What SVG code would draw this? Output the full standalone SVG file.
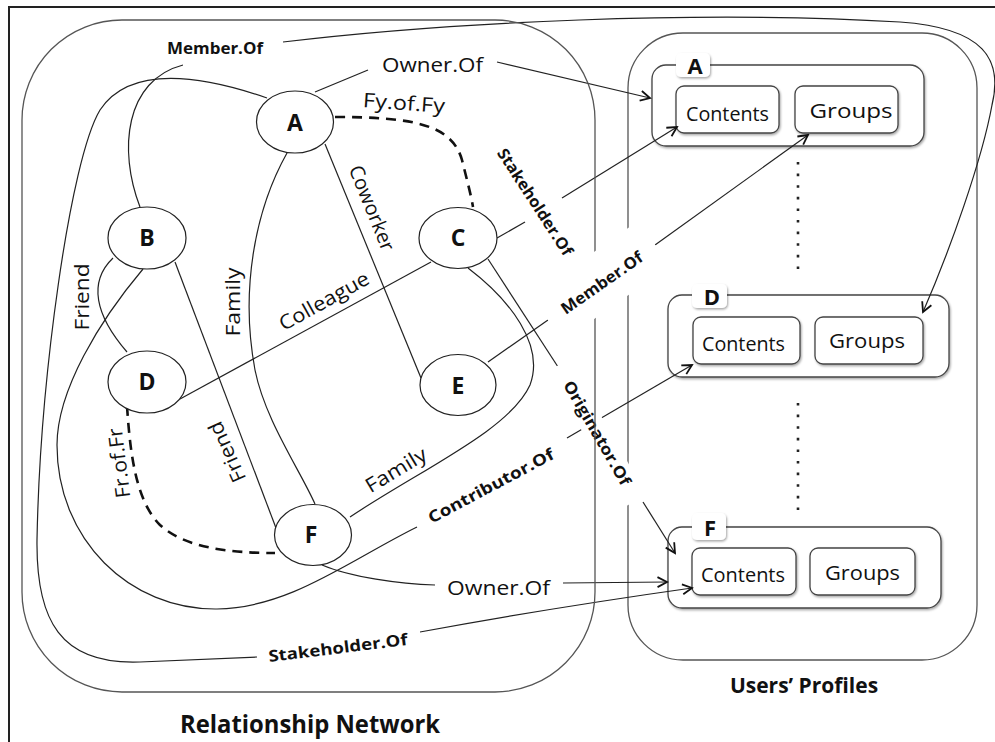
<svg xmlns="http://www.w3.org/2000/svg" width="995" height="742" viewBox="0 0 995 742">
<defs>
<style>
.frame{fill:none;stroke:#222;stroke-width:2}
.big{fill:none;stroke:#555;stroke-width:1.3}
.conn{fill:none;stroke:#222;stroke-width:1.2}
.dash{fill:none;stroke:#111;stroke-width:2.6;stroke-dasharray:10 7}
.node ellipse{fill:#fff;stroke:#222;stroke-width:1.2}
.node text{font-family:"Open Sans","Liberation Sans",sans-serif;font-weight:bold;font-size:23px;text-anchor:middle;fill:#111}
.lbl{font-family:"Open Sans","Liberation Sans",sans-serif;font-size:20px;fill:#111;text-anchor:middle}
.blbl{font-family:"Open Sans","Liberation Sans",sans-serif;font-size:16px;font-weight:bold;fill:#111;text-anchor:middle}
.title{font-family:"Open Sans","Liberation Sans",sans-serif;font-weight:bold;fill:#111;text-anchor:middle}
.pbox{fill:#fff;stroke:#444;stroke-width:1.3}
.ibox{fill:#fff;stroke:#444;stroke-width:1.3}
.tab{fill:#fff}
.ptxt{font-family:"Open Sans","Liberation Sans",sans-serif;font-size:20px;fill:#111;text-anchor:middle}
.tabtxt{font-family:"Open Sans","Liberation Sans",sans-serif;font-size:22px;font-weight:bold;fill:#111;text-anchor:middle}
.dots{fill:none;stroke:#222;stroke-width:2.6;stroke-dasharray:2.6 9}
.bg{fill:#fff}
</style>
<filter id="sh" x="-10%" y="-10%" width="130%" height="140%">
<feDropShadow dx="1" dy="1.5" stdDeviation="1.2" flood-color="#000" flood-opacity="0.35"/>
</filter>
<marker id="arr" viewBox="-11 -7 13 14" refX="0" refY="0" markerWidth="13" markerHeight="14" markerUnits="userSpaceOnUse" orient="auto">
<path d="M-9.5,-5 L0,0 L-9.5,5" fill="none" stroke="#111" stroke-width="1.8"/>
</marker>
</defs>
<rect width="995" height="742" fill="#fff"/>
<rect class="frame" x="9" y="7" width="1000" height="800"/>

<g id="users-profiles">
<rect class="big" x="628" y="33" width="349" height="627" rx="55" ry="55"/>
<text class="title" x="804" y="693" font-size="21">Users’ Profiles</text>
<line class="dots" x1="798" y1="162" x2="798" y2="277"/>
<line class="dots" x1="798" y1="403" x2="798" y2="518"/>
</g>

<g id="profile-A">
<rect class="pbox" x="652" y="65" width="272" height="81" rx="14" filter="url(#sh)"/>
<rect class="tab" x="676" y="53" width="34" height="24" rx="5" filter="url(#sh)"/>
<text class="tabtxt" x="695" y="74">A</text>
<rect class="ibox" x="676" y="86" width="103" height="47" rx="8" filter="url(#sh)"/>
<text class="ptxt" x="727.5" y="121" textLength="83" lengthAdjust="spacingAndGlyphs">Contents</text>
<rect class="ibox" x="795" y="86" width="103" height="47" rx="8" filter="url(#sh)"/>
<text class="ptxt" x="851" y="118" textLength="83" lengthAdjust="spacingAndGlyphs">Groups</text>
</g>

<g id="profile-D">
<rect class="pbox" x="668" y="295" width="281" height="82" rx="14" filter="url(#sh)"/>
<rect class="tab" x="692" y="284" width="35" height="24" rx="5" filter="url(#sh)"/>
<text class="tabtxt" x="712" y="305">D</text>
<rect class="ibox" x="693" y="317" width="107" height="47" rx="8" filter="url(#sh)"/>
<text class="ptxt" x="743.5" y="351" textLength="83" lengthAdjust="spacingAndGlyphs">Contents</text>
<rect class="ibox" x="815" y="317" width="108" height="47" rx="8" filter="url(#sh)"/>
<text class="ptxt" x="867" y="348" textLength="76" lengthAdjust="spacingAndGlyphs">Groups</text>
</g>

<g id="profile-F">
<rect class="pbox" x="668" y="527" width="273" height="81" rx="14" filter="url(#sh)"/>
<rect class="tab" x="692" y="513" width="34" height="27" rx="5" filter="url(#sh)"/>
<text class="tabtxt" x="710" y="536">F</text>
<rect class="ibox" x="692" y="548" width="104" height="47" rx="8" filter="url(#sh)"/>
<text class="ptxt" x="743" y="582" textLength="84" lengthAdjust="spacingAndGlyphs">Contents</text>
<rect class="ibox" x="810" y="548" width="105" height="47" rx="8" filter="url(#sh)"/>
<text class="ptxt" x="862.5" y="580" textLength="75" lengthAdjust="spacingAndGlyphs">Groups</text>
</g>

<g id="connectors">
<path class="conn" d="M140,207 C118,150 125,80 183,65"/>
<path class="conn" d="M283,42 C450,22 700,10 900,22 C985,28 1003,60 992,105 C982,160 950,250 923,312" marker-end="url(#arr)"/>
<path class="conn" d="M315,92 L368,70"/>
<path class="conn" d="M497,62 L650,98" marker-end="url(#arr)"/>
<path class="dash" d="M335,117 C415,117 452,125 462,160 C467,180 471,195 473,207"/>
<path class="conn" d="M325,144 L421,378"/>
<path class="conn" d="M287,153 C255,210 240,290 255,370 C265,420 300,470 315,504"/>
<path class="conn" d="M175,262 L276,528"/>
<path class="conn" d="M113,258 C88,282 95,315 127,352"/>
<path class="conn" d="M143,269 C100,320 57,390 57,445 C57,540 130,610 217,609 C290,608 350,560 417,527"/>
<path class="conn" d="M567,438 L692,365" marker-end="url(#arr)"/>
<path class="conn" d="M180,399 L431,262"/>
<path class="conn" d="M468,268 C510,300 545,345 530,385 C510,430 420,470 350,517"/>
<path class="conn" d="M488,259 L560,370"/>
<path class="conn" d="M643,502 L675,553" marker-end="url(#arr)"/>
<path class="conn" d="M497,238 L525,222"/>
<path class="conn" d="M562,198 L677,127" marker-end="url(#arr)"/>
<path class="conn" d="M488,362 L548,320"/>
<path class="conn" d="M655,245 L808,135" marker-end="url(#arr)"/>
<path class="conn" d="M322,565 C350,577 400,584 435,585"/>
<path class="conn" d="M563,583 L667,582" marker-end="url(#arr)"/>
<path class="dash" d="M127,406 C130,450 135,500 160,525 C185,548 230,553 275,553"/>
<path class="conn" d="M267,98 C200,75 130,65 100,110 C70,160 40,380 37,540 C36,620 60,665 140,662 L257,657"/>
<path class="conn" d="M420,632 Q550,608 692,588" marker-end="url(#arr)"/>
</g>

<g id="label-originator">
<g transform="translate(597,433) rotate(60)">
<rect class="bg" x="-78" y="-12" width="156" height="24"/>
<text class="blbl" x="0" y="5.5" font-size="17" textLength="118" lengthAdjust="spacingAndGlyphs">Originator.Of</text>
</g>
</g>

<g id="relationship-network">
<rect class="big" x="22" y="20" width="573" height="672" rx="100" ry="100"/>
<text class="title" x="310" y="733" font-size="25" textLength="260" lengthAdjust="spacingAndGlyphs">Relationship Network</text>
</g>

<g id="label-member-mid">
<g transform="translate(602,283) rotate(-35)">
<rect class="bg" x="-65.5" y="-30" width="131" height="55"/>
<text class="blbl" x="0" y="5.5" font-size="17" textLength="96" lengthAdjust="spacingAndGlyphs">Member.Of</text>
</g>
</g>

<g id="labels">
<text class="blbl" x="215" y="54" textLength="96" lengthAdjust="spacingAndGlyphs">Member.Of</text>
<text class="lbl" x="432.5" y="72" font-size="21" textLength="101" lengthAdjust="spacingAndGlyphs">Owner.Of</text>
<text class="lbl" transform="translate(404,103) rotate(4)" x="0" y="7" font-size="22" textLength="82" lengthAdjust="spacingAndGlyphs">Fy.of.Fy</text>
<text class="lbl" transform="translate(372,208) rotate(68)" x="0" y="7">Coworker</text>
<text class="blbl" transform="translate(535,202) rotate(57)" x="0" y="5.5" font-size="17" textLength="124" lengthAdjust="spacingAndGlyphs">Stakeholder.Of</text>
<text class="lbl" transform="translate(324,301) rotate(-29)" x="0" y="7" font-size="21" textLength="100" lengthAdjust="spacingAndGlyphs">Colleague</text>
<text class="lbl" transform="translate(233,302) rotate(-90)" x="0" y="7" font-size="21" textLength="69" lengthAdjust="spacingAndGlyphs">Family</text>
<text class="lbl" transform="translate(82,297) rotate(-90)" x="0" y="7" font-size="21" textLength="67" lengthAdjust="spacingAndGlyphs">Friend</text>
<text class="lbl" transform="translate(119,463) rotate(-97)" x="0" y="7" textLength="70" lengthAdjust="spacingAndGlyphs">Fr.of.Fr</text>
<text class="lbl" transform="translate(227,452) rotate(-114)" x="0" y="7" font-size="21" textLength="64" lengthAdjust="spacingAndGlyphs">Friend</text>
<text class="lbl" transform="translate(396,470) rotate(-31)" x="0" y="7" font-size="21" textLength="68" lengthAdjust="spacingAndGlyphs">Family</text>
<text class="blbl" transform="translate(491,486) rotate(-28)" x="0" y="5.5" font-size="17" textLength="140" lengthAdjust="spacingAndGlyphs">Contributor.Of</text>
<text class="lbl" x="498.5" y="595" font-size="21" textLength="103" lengthAdjust="spacingAndGlyphs">Owner.Of</text>
<text class="blbl" transform="translate(338,648) rotate(-7)" x="0" y="5.5" font-size="17" textLength="140" lengthAdjust="spacingAndGlyphs">Stakeholder.Of</text>
</g>

<g id="node-A" class="node"><ellipse cx="295" cy="122" rx="38.5" ry="31"/><text x="295" y="131">A</text></g>
<g id="node-B" class="node"><ellipse cx="147" cy="238" rx="39" ry="31"/><text x="147" y="246">B</text></g>
<g id="node-C" class="node"><ellipse cx="458" cy="238" rx="39" ry="30.5"/><text x="458" y="246">C</text></g>
<g id="node-D" class="node"><ellipse cx="147" cy="382" rx="39" ry="31"/><text x="147" y="390">D</text></g>
<g id="node-E" class="node"><ellipse cx="458" cy="385" rx="38" ry="30.5"/><text x="458" y="394">E</text></g>
<g id="node-F" class="node"><ellipse cx="313" cy="535" rx="38.5" ry="30.5"/><text x="311" y="543">F</text></g>
</svg>
